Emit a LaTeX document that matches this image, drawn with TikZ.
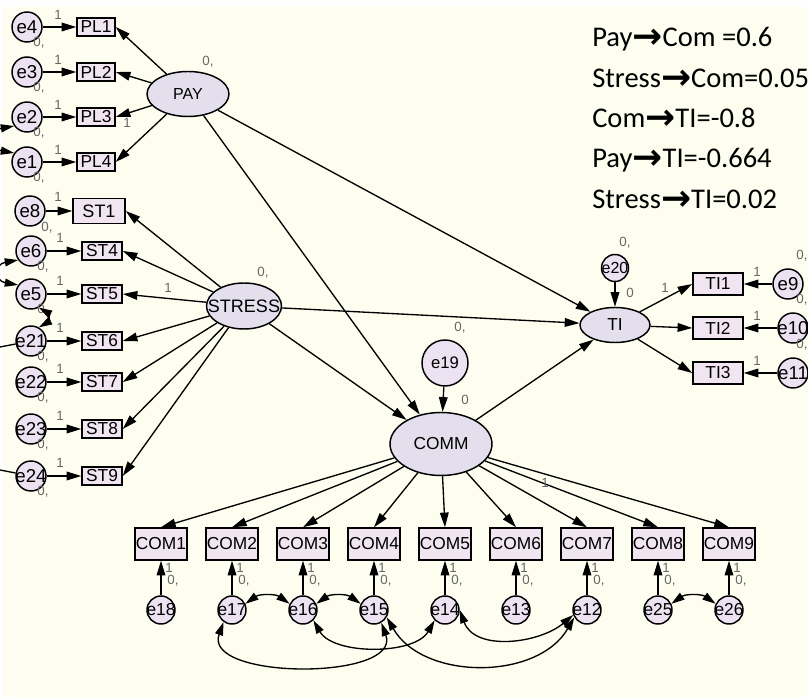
\documentclass[tikz,border=0pt]{standalone}
\usepackage{fontspec}
\setmainfont{Liberation Sans}
\newfontfamily\notefont{Carlito}
\newfontfamily\arrowfont{DejaVu Sans}
\usetikzlibrary{arrows.meta,shapes.geometric}
\definecolor{bgcream}{RGB}{253,253,240}
\definecolor{latfill}{RGB}{227,223,236}
\definecolor{obsfill}{RGB}{241,229,241}
\definecolor{errfill}{RGB}{236,226,241}
\newcommand{\nolen}[1]{\makebox[0pt]{#1}}
\newcommand{\arr}{{\arrowfont\bfseries\fontsize{27}{27}\selectfont\raisebox{-1.5pt}{→}}}
\tikzset{
  latent/.style={ellipse, draw, line width=1.1pt, fill=latfill, inner sep=0pt, font=\fontsize{13}{13}\selectfont},
  obs/.style={rectangle, draw, line width=1.1pt, fill=obsfill, inner sep=0pt, minimum width=30pt, minimum height=13.5pt, font=\fontsize{13}{13}\selectfont},
  err/.style={circle, draw, line width=1.1pt, fill=errfill, inner sep=0pt, minimum size=22.5pt, font=\fontsize{14}{14}\selectfont},
  reg/.style={-{Triangle[length=11pt,width=6.5pt]}, line width=1pt},
  cov/.style={{Triangle[length=10pt,width=6pt]}-{Triangle[length=10pt,width=6pt]}, line width=1pt},
  est/.style={font=\fontsize{10}{10}\selectfont, text=black!60, inner sep=0pt},
  note/.style={font=\notefont\fontsize{21.4}{21.4}\selectfont, inner sep=0pt, anchor=base west}
}

\begin{document}
\begin{tikzpicture}[x=0.75pt,y=0.75pt]
\clip (0,0) rectangle (808,697);
% Page
\fill[white] (0,0) rectangle (808,697);
\fill[bgcream] (3,0) rectangle (808,690);

% Latent variables
\node[latent, minimum width=61.5pt, minimum height=33.75pt, font=\fontsize{12}{12}\selectfont] (pay) at (188,603) {\nolen{PAY}};
\node[latent, minimum width=56.25pt, minimum height=34.5pt, font=\fontsize{13.5}{13.5}\selectfont] (stress) at (244,391) {\nolen{STRESS}};
\node[latent, minimum width=52.5pt, minimum height=26.25pt] (ti) at (615,372) {\nolen{TI}};
\node[latent, minimum width=76.5pt, minimum height=47.25pt] (comm) at (441,253) {\nolen{COMM}};

% Disturbances
\node[err, minimum size=34.5pt, font=\fontsize{12.5}{12.5}\selectfont] (e19) at (445,334) {\nolen{e19}};
\node[err, minimum size=20.25pt, font=\fontsize{12}{12}\selectfont] (e20) at (615,429) {\nolen{e20}};
\draw[reg] (e19) -- (comm);
\draw[reg] (e20) -- (ti);

% Structural paths
\draw[reg] (pay) -- (ti);
\draw[reg] (pay) -- (comm);
\draw[reg] (stress) -- (ti);
\draw[reg] (stress) -- (comm);
\draw[reg] (comm) -- (ti);

% PAY indicators
\foreach \i/\y/\e in {1/670/e4, 2/625/e3, 3/580/e2, 4/535/e1} {
  \node[obs, minimum width=28.5pt] (pl\i) at (96,\y) {\nolen{PL\i}};
  \node[err] (\e) at (27,\y) {\nolen{\e}};
  \draw[reg] (\e) -- (pl\i);
  \draw[reg] (pay) -- (pl\i.east);
  \node[est] at (58,\y+12) {1};
  \node[est] at (39,\y-16) {0,};
}

% STRESS indicators
\node[obs, minimum width=39pt, minimum height=18.75pt, font=\fontsize{13.5}{13.5}\selectfont] (st1) at (99,486) {\nolen{ST1}};
\node[err] (e8) at (30,486) {\nolen{e8}};
\draw[reg] (e8) -- (st1);
\draw[reg] (stress) -- (st1.east);
\node[est] at (58,500) {1};
\node[est] at (47,469) {0,};
\foreach \i/\y/\e in {4/446/e6, 5/403/e5, 6/356/e21, 7/315/e22, 8/268/e23, 9/221/e24} {
  \node[obs] (st\i) at (102,\y) {\nolen{ST\i}};
  \node[err] (\e) at (31,\y) {\nolen{\e}};
  \draw[reg] (\e) -- (st\i);
  \draw[reg] (stress) -- (st\i.east);
  \node[est] at (60,\y+13) {1};
  \node[est] at (43,\y-16) {0,};
}

% Error covariances at the left edge
\draw[cov] (e2.215) to[out=190,in=170,looseness=2.5] (e1.145);
\draw[cov] (e6.215) to[out=190,in=170,looseness=2.5] (e5.145);
\draw[cov] (e5.300) to[out=330,in=30,looseness=1.5] (e21.60);
\coordinate (l21) at (0,350);
\coordinate (l24) at (0,227);
\draw[line width=1pt] (l21) -- (e21);
\draw[line width=1pt] (l24) -- (e24);

% TI indicators
\foreach \i/\y/\e/\x in {1/413/e9/788, 2/369/e10/793, 3/324/e11/793} {
  \node[obs, minimum width=37.5pt, minimum height=16.5pt] (ti\i) at (718,\y) {\nolen{TI\i}};
  \node[err] (\e) at (\x,\y) {\nolen{\e}};
  \draw[reg] (\e) -- (ti\i);
  \draw[reg] (ti) -- (ti\i.west);
  \node[est] at (757,\y+12) {1};
  \node[est] at (802,\y+28) {0,};
}

% COMM indicators
\foreach \i/\x/\e in {1/161/e18, 2/232/e17, 3/303/e16, 4/374/e15, 5/445/e14, 6/516/e13, 7/587/e12, 8/658/e25, 9/729/e26} {
  \node[obs, minimum width=39pt, minimum height=24pt] (com\i) at (\x,153) {\nolen{COM\i}};
  \node[err, minimum size=21pt, font=\fontsize{13}{13}\selectfont] (\e) at (\x,87) {\nolen{\e}};
  \draw[reg] (\e) -- (com\i);
  \draw[reg] (comm) -- (com\i.north);
  \node[est] at (\x+8,129) {1};
  \node[est] at (\x+12,116) {0,};
}

% Error covariances below
\draw[cov] (e17.25) to[bend left=35] (e16.155);
\draw[cov] (e16.25) to[bend left=35] (e15.155);
\draw[cov] (e25.25) to[bend left=35] (e26.155);
\draw[cov] (e17.235) to[out=250,in=290] (e15.300);
\draw[cov] (e16.315) to[out=300,in=240,looseness=0.85] (e14.225);
\draw[cov] (e15.330) to[out=300,in=240] (e12.210);
\draw[cov] (e14.0) to[out=290,in=220] (e12.200);

% Estimates
\node[est] at (208,635) {0,};
\node[est] at (127,574) {1};
\node[est] at (263,424) {0,};
\node[est] at (168,409) {1};
\node[est] at (460,369) {0,};
\node[est] at (465,297) {0};
\node[est] at (625,454) {0,};
\node[est] at (630,404) {0};
\node[est] at (665,409) {1};
\node[est] at (545,214) {1};

% Effects
\foreach \i/\t in {0/{Pay\arr Com =0.6}, 1/{Stress\arr Com=0.05}, 2/{Com\arr TI=-0.8}, 3/{Pay\arr TI=-0.664}, 4/{Stress\arr TI=0.02}} {
  \node[note] (eff\i) at (592,650-40.3*\i) {\t};
}
\end{tikzpicture}
\end{document}
